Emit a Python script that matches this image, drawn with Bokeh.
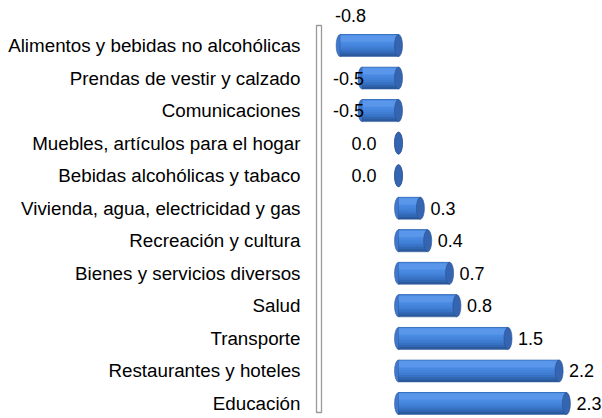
from bokeh.plotting import figure
from bokeh.models import ColumnDataSource, Range1d, FixedTicker, BoxAnnotation
from bokeh.core.properties import value
from bokeh.embed import file_html
from bokeh.resources import INLINE

categories = [
    "Alimentos y bebidas no alcohólicas",
    "Prendas de vestir y calzado",
    "Comunicaciones",
    "Muebles, artículos para el hogar",
    "Bebidas alcohólicas y tabaco",
    "Vivienda, agua, electricidad y gas",
    "Recreación y cultura",
    "Bienes y servicios diversos",
    "Salud",
    "Transporte",
    "Restaurantes y hoteles",
    "Educación",
]
values = [-0.8, -0.5, -0.5, 0.0, 0.0, 0.3, 0.4, 0.7, 0.8, 1.5, 2.2, 2.3]

FONT = "Liberation Sans"
n = len(categories)
ys = list(range(n))
lefts = [min(v, 0) for v in values]
rights = [max(v, 0) for v in values]

p = figure(width=602, height=418, output_backend="svg", toolbar_location=None,
           x_range=Range1d(-1.2055, 2.7945), y_range=Range1d(11.461, -1.383),
           x_axis_location=None, min_border_left=310, min_border_right=0,
           min_border_top=0, min_border_bottom=0)
p.outline_line_color = None
p.xgrid.visible = False
p.ygrid.visible = False
p.background_fill_color = "white"
p.border_fill_color = "white"

ax = p.yaxis[0]
ax.ticker = FixedTicker(ticks=ys)
ax.major_label_overrides = {i: c for i, c in enumerate(categories)}
ax.major_tick_line_color = None
ax.minor_tick_line_color = None
ax.major_label_text_font = FONT
ax.major_label_text_font_size = "18.8px"
ax.major_label_text_color = "#000000"
ax.major_label_standoff = 4
ax.axis_line_color = None

# 3D-style axis wall (decoration)
p.add_layout(BoxAnnotation(left=-1.1233, right=-1.0548, top=-0.615, bottom=11.277,
                           fill_color="white", fill_alpha=1.0,
                           line_color="#9a9a9a", line_alpha=1.0, line_width=1.3))

src = ColumnDataSource(dict(y=ys, left=lefts, right=rights, v=values,
                            label=[f"{v:.1f}" for v in values]))

BH = 0.676
CW = 0.11
# rounded left end
p.ellipse(x="left", y="y", width=CW, height=BH, source=src,
          fill_color="#3f78cc", line_color="#2a5190", line_width=0.5)
# cylinder body: overlapping layers, darkest (full height) first, lighter ones toward the top
layers = ["#2b599c", "#3166b2", "#3872c4", "#3e7cd2", "#4383da", "#4888e0", "#4f8fe6", "#5a97ea"]
nl = len(layers)
for k, col in enumerate(layers):
    h = BH * (1 - k / nl * 0.85)
    top = -BH / 2 + (0.06 * BH if k == nl - 1 else 0)
    off = top + h / 2
    lsrc = ColumnDataSource(dict(y=[y + off for y in ys], left=lefts, right=rights))
    p.hbar(y="y", left="left", right="right", height=h, source=lsrc,
           fill_color=col, line_color=None)
# thin outline of body
p.hbar(y="y", left="left", right="right", height=BH, source=src,
       fill_color=None, line_color="#2f5a9c", line_width=0.5)
# end cap
p.ellipse(x="right", y="y", width=CW, height=BH, source=src,
          fill_color="#3565b0", line_color="#2a5190", line_width=0.6)

# value labels
pos = [i for i, v in enumerate(values) if v > 0]
zero = [i for i, v in enumerate(values) if v == 0]
neg = [i for i, v in enumerate(values) if v < 0 and v > -0.7]
far = [i for i, v in enumerate(values) if v <= -0.7]

def sub(idx):
    return ColumnDataSource(dict(x=[values[i] for i in idx], y=[ys[i] for i in idx],
                                 t=[f"{values[i]:.1f}" for i in idx]))

common = dict(text_font=value(FONT), text_font_size="18px", text_color="#000000",
              text_baseline="middle")
p.text(x="x", y="y", text="t", source=sub(pos), text_align="left", x_offset=10, **common)
p.text(x="x", y="y", text="t", source=sub(zero), text_align="right", x_offset=-22, **common)
p.text(x="x", y="y", text="t", source=sub(neg), text_align="right", x_offset=2, **common)
p.text(x="x", y="y", text="t", source=sub(far), text_align="left", x_offset=-5, y_offset=-30, **common)

open("out.html", "w").write(file_html(p, INLINE))
